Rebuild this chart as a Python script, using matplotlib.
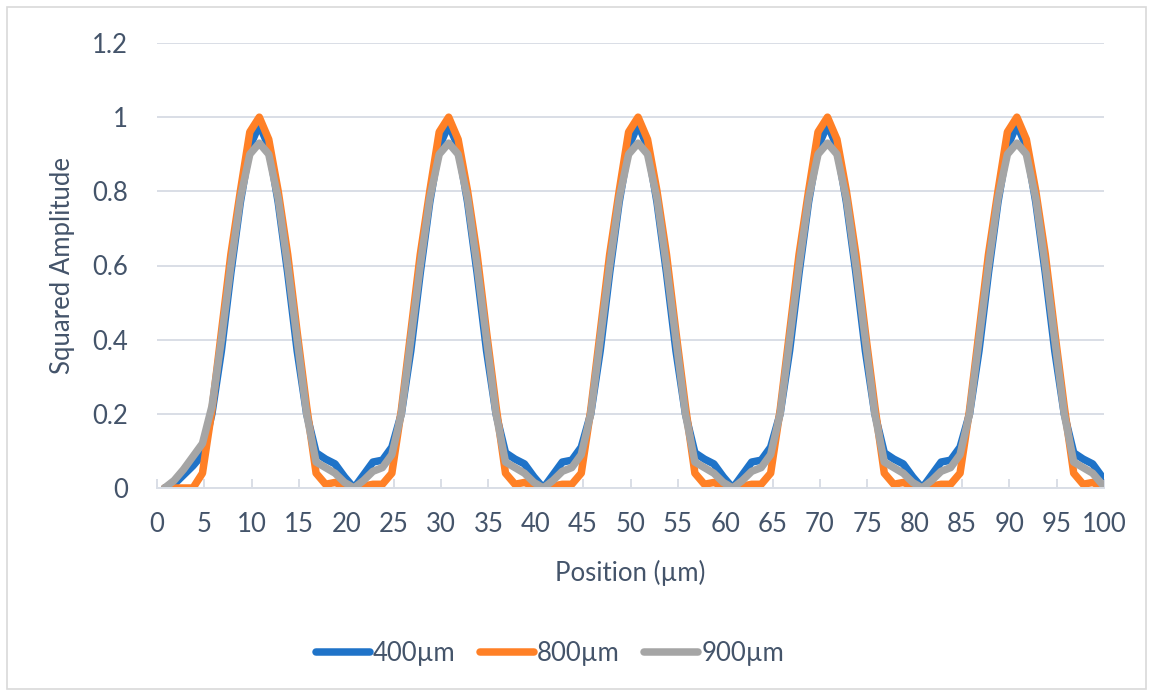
import numpy as np
import matplotlib
matplotlib.use("Agg")
import matplotlib.pyplot as plt
from matplotlib.patches import Rectangle

# ---- data ----
position = np.arange(100) + 0.8   # µm

amp_400 = [
    0.0, 0.01, 0.035, 0.06, 0.09, 0.2, 0.37, 0.58, 0.77, 0.92,
    0.98, 0.92, 0.77, 0.58, 0.37, 0.2, 0.095, 0.078, 0.065, 0.03,
    0.0, 0.035, 0.07, 0.075, 0.11, 0.2, 0.37, 0.58, 0.77, 0.92,
    0.98, 0.92, 0.77, 0.58, 0.37, 0.2, 0.095, 0.078, 0.065, 0.03,
    0.0, 0.035, 0.07, 0.075, 0.11, 0.2, 0.37, 0.58, 0.77, 0.92,
    0.98, 0.92, 0.77, 0.58, 0.37, 0.2, 0.095, 0.078, 0.065, 0.03,
    0.0, 0.035, 0.07, 0.075, 0.11, 0.2, 0.37, 0.58, 0.77, 0.92,
    0.98, 0.92, 0.77, 0.58, 0.37, 0.2, 0.095, 0.078, 0.065, 0.03,
    0.0, 0.035, 0.07, 0.075, 0.11, 0.2, 0.37, 0.58, 0.77, 0.92,
    0.98, 0.92, 0.77, 0.58, 0.37, 0.2, 0.095, 0.078, 0.065, 0.03,
]
amp_800 = [
    0.0, 0.0, 0.0, 0.0, 0.04, 0.21, 0.42, 0.63, 0.8, 0.96,
    1.0, 0.94, 0.8, 0.63, 0.42, 0.22, 0.04, 0.01, 0.015, 0.005,
    0.0, 0.005, 0.01, 0.01, 0.04, 0.21, 0.42, 0.63, 0.8, 0.96,
    1.0, 0.94, 0.8, 0.63, 0.42, 0.22, 0.04, 0.01, 0.015, 0.005,
    0.0, 0.005, 0.01, 0.01, 0.04, 0.21, 0.42, 0.63, 0.8, 0.96,
    1.0, 0.94, 0.8, 0.63, 0.42, 0.22, 0.04, 0.01, 0.015, 0.005,
    0.0, 0.005, 0.01, 0.01, 0.04, 0.21, 0.42, 0.63, 0.8, 0.96,
    1.0, 0.94, 0.8, 0.63, 0.42, 0.22, 0.04, 0.01, 0.015, 0.005,
    0.0, 0.005, 0.01, 0.01, 0.04, 0.21, 0.42, 0.63, 0.8, 0.96,
    1.0, 0.94, 0.8, 0.63, 0.42, 0.22, 0.04, 0.01, 0.015, 0.003,
]
amp_900 = [
    0.0, 0.02, 0.05, 0.085, 0.12, 0.22, 0.4, 0.6, 0.78, 0.9,
    0.93, 0.9, 0.78, 0.6, 0.4, 0.2, 0.07, 0.055, 0.04, 0.015,
    0.0, 0.02, 0.045, 0.055, 0.09, 0.2, 0.4, 0.6, 0.78, 0.9,
    0.93, 0.9, 0.78, 0.6, 0.4, 0.2, 0.07, 0.055, 0.04, 0.015,
    0.0, 0.02, 0.045, 0.055, 0.09, 0.2, 0.4, 0.6, 0.78, 0.9,
    0.93, 0.9, 0.78, 0.6, 0.4, 0.2, 0.07, 0.055, 0.04, 0.015,
    0.0, 0.02, 0.045, 0.055, 0.09, 0.2, 0.4, 0.6, 0.78, 0.9,
    0.93, 0.9, 0.78, 0.6, 0.4, 0.2, 0.07, 0.055, 0.04, 0.015,
    0.0, 0.02, 0.045, 0.055, 0.09, 0.2, 0.4, 0.6, 0.78, 0.9,
    0.93, 0.9, 0.78, 0.6, 0.4, 0.2, 0.07, 0.055, 0.04, 0.01,
]
series_labels = ["400µm", "800µm", "900µm"]
series_colors = ["#1F73C8", "#FF8026", "#A5A5A5"]
x_ticks = list(range(0, 101, 5))
y_ticks = [0, 0.2, 0.4, 0.6, 0.8, 1, 1.2]
y_tick_labels = ["0", "0.2", "0.4", "0.6", "0.8", "1", "1.2"]

# ---- figure ----
plt.rcParams['font.family'] = ['Lato', 'DejaVu Sans']
text_color = "#44546A"
grid_color = "#D9DEE6"
fs = 18.5

fig = plt.figure(figsize=(11.53, 6.93), dpi=100)
ax = fig.add_axes([157 / 1153, 1 - 488 / 693, (1104 - 157) / 1153, (488 - 43) / 693])

for y, lab, col in zip([amp_400, amp_800, amp_900], series_labels, series_colors):
    ax.plot(position, y, color=col, lw=5.4, label=lab,
            solid_joinstyle='round', solid_capstyle='round')

ax.set_xlim(0, 100)
ax.set_ylim(0, 1.2)
ax.set_xticks(x_ticks)
ax.set_yticks(y_ticks)
ax.set_yticklabels(y_tick_labels)
ax.grid(axis='y', color=grid_color, lw=1.4)
ax.set_axisbelow(True)
for s in ['top', 'right', 'left']:
    ax.spines[s].set_visible(False)
ax.spines['bottom'].set_color(grid_color)
ax.spines['bottom'].set_linewidth(1.4)
ax.tick_params(axis='x', direction='in', length=6.5, width=1.4, color=grid_color,
               labelsize=fs, labelcolor=text_color, pad=17)
ax.tick_params(axis='y', length=0, labelsize=fs, labelcolor=text_color, pad=21)

ax.set_xlabel("Position (µm)", fontsize=fs, color=text_color, labelpad=17)
ax.set_ylabel("Squared Amplitude", fontsize=fs, color=text_color, labelpad=12)

leg = fig.legend(loc='center', bbox_to_anchor=(550 / 1153, 1 - 653 / 693), ncol=3,
                 frameon=False, fontsize=fs, handlelength=2.1, handletextpad=0.12,
                 columnspacing=0.95)
for t in leg.get_texts():
    t.set_color(text_color)
for h in leg.get_lines():
    h.set_linewidth(5.4)
    h.set_solid_capstyle('round')

fig.patches.append(Rectangle((7 / 1153, 4 / 693), 1139 / 1153, 682 / 693,
                             transform=fig.transFigure, fill=False,
                             edgecolor="#D9D9D9", lw=1.2))

fig.savefig("out.png", dpi=100)
